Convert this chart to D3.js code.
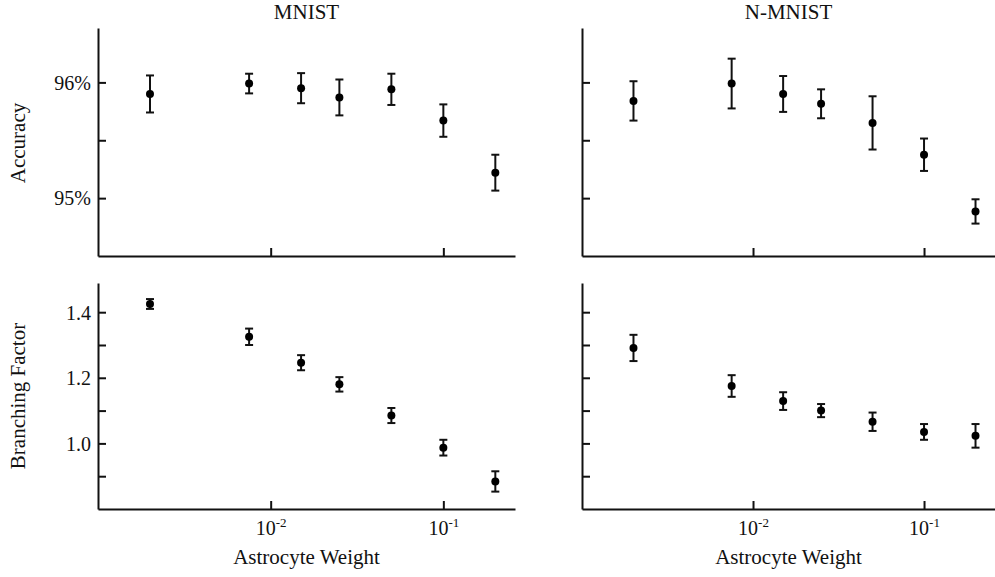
<!DOCTYPE html>
<meta charset="utf-8">
<title>Astrocyte weight</title>
<style>
body { margin: 0; background: #fff; }
svg text { font-family: 'Liberation Serif', 'Times New Roman', serif; fill: #111; }
.axis path, .axis line { stroke: #111; stroke-width: 2; }
.axis text { font-size: 20px; }
.err { stroke: #111; stroke-width: 2; }
</style>
<body>
<svg width="995" height="577"></svg>
<script src="https://d3js.org/d3.v7.min.js"></script>
<script>

// astrocyte weights (x)
var weights = [0.002, 0.0075, 0.015, 0.025, 0.05, 0.1, 0.2];

// accuracy (%) mean and error
var accMnist    = [95.90, 95.99, 95.95, 95.87, 95.94, 95.67, 95.22];
var accMnistErr = [0.16, 0.085, 0.13, 0.155, 0.135, 0.14, 0.155];
var accNmnist    = [95.84, 95.99, 95.90, 95.815, 95.65, 95.375, 94.885];
var accNmnistErr = [0.17, 0.215, 0.155, 0.125, 0.23, 0.14, 0.105];

// branching factor mean and error
var bfMnist    = [1.425, 1.325, 1.246, 1.180, 1.085, 0.987, 0.884];
var bfMnistErr = [0.015, 0.025, 0.023, 0.022, 0.023, 0.024, 0.031];
var bfNmnist    = [1.291, 1.175, 1.129, 1.100, 1.066, 1.035, 1.023];
var bfNmnistErr = [0.04, 0.033, 0.027, 0.02, 0.028, 0.024, 0.036];

var titles = ["MNIST", "N-MNIST"];
var xTickVals = [0.01, 0.1];
var accTicks = [95, 95.5, 96];
var accLabels = {95: "95%", 96: "96%"};
var bfTicks = [0.9, 1.0, 1.1, 1.2, 1.3, 1.4];
var bfLabels = {1.0: "1.0", 1.2: "1.2", 1.4: "1.4"};

var serif = "'Liberation Serif', 'Times New Roman', serif";
var svg = d3.select("svg").style("font-family", serif);

var cols = [{x0: 98, x1: 515}, {x0: 582, x1: 995}];
var rows = [{y0: 28, y1: 256}, {y0: 283, y1: 509}];

function panel(col, row, mean, err, yDomain, ticks, labels, showY, showX) {
    var c = cols[col], r = rows[row];
    var x = d3.scaleLog().domain([0.001, 0.26]).range([c.x0, c.x1]);
    var y = d3.scaleLinear().domain(yDomain).range([r.y1, r.y0]);

    var xAxis = svg.append("g")
        .attr("class", "axis")
        .attr("transform", "translate(0," + r.y1 + ")")
        .call(d3.axisBottom(x).tickValues(xTickVals).tickSizeInner(-8).tickSizeOuter(0).tickFormat(""));
    if (showX) {
        xAxis.selectAll(".tick").append("text")
            .attr("y", 26)
            .attr("text-anchor", "middle")
            .style("font-family", serif)
            .each(function(d) {
                var t = d3.select(this);
                t.append("tspan").text("10");
                t.append("tspan").attr("dy", -8).style("font-size", "13px")
                    .text("-" + Math.round(-Math.log10(d)));
            });
    }

    var yAxis = svg.append("g")
        .attr("class", "axis")
        .attr("transform", "translate(" + c.x0 + ",0)")
        .call(d3.axisLeft(y).tickValues(ticks).tickSizeInner(-8).tickSizeOuter(0)
            .tickFormat(function(d) { return showY && labels[d] ? labels[d] : ""; }));
    yAxis.selectAll("text").attr("x", -7).attr("dy", "0.34em").style("font-family", serif);

    var g = svg.append("g");
    var pts = weights.map(function(w, i) { return {w: w, m: mean[i], e: err[i]}; });
    var cap = 4;
    g.selectAll(".bar").data(pts).enter().append("line")
        .attr("class", "err")
        .attr("x1", function(d) { return x(d.w); })
        .attr("x2", function(d) { return x(d.w); })
        .attr("y1", function(d) { return y(d.m - d.e); })
        .attr("y2", function(d) { return y(d.m + d.e); });
    g.selectAll(".capt").data(pts).enter().append("line")
        .attr("class", "err")
        .attr("x1", function(d) { return x(d.w) - cap; })
        .attr("x2", function(d) { return x(d.w) + cap; })
        .attr("y1", function(d) { return y(d.m + d.e); })
        .attr("y2", function(d) { return y(d.m + d.e); });
    g.selectAll(".capb").data(pts).enter().append("line")
        .attr("class", "err")
        .attr("x1", function(d) { return x(d.w) - cap; })
        .attr("x2", function(d) { return x(d.w) + cap; })
        .attr("y1", function(d) { return y(d.m - d.e); })
        .attr("y2", function(d) { return y(d.m - d.e); });
    g.selectAll("circle").data(pts).enter().append("circle")
        .attr("cx", function(d) { return x(d.w); })
        .attr("cy", function(d) { return y(d.m); })
        .attr("r", 4)
        .attr("fill", "#000");
}

var accDomain = [94.5, 96.47];
var bfDomain = [0.8, 1.489];

panel(0, 0, accMnist, accMnistErr, accDomain, accTicks, accLabels, true, false);
panel(1, 0, accNmnist, accNmnistErr, accDomain, accTicks, accLabels, false, false);
panel(0, 1, bfMnist, bfMnistErr, bfDomain, bfTicks, bfLabels, true, true);
panel(1, 1, bfNmnist, bfNmnistErr, bfDomain, bfTicks, bfLabels, false, true);

// titles and x labels
titles.forEach(function(t, i) {
    svg.append("text")
        .attr("x", (cols[i].x0 + cols[i].x1) / 2)
        .attr("y", 19)
        .attr("text-anchor", "middle")
        .style("font-family", serif)
        .style("font-size", "21px")
        .text(t);
    svg.append("text")
        .attr("x", (cols[i].x0 + cols[i].x1) / 2)
        .attr("y", 564)
        .attr("text-anchor", "middle")
        .style("font-family", serif)
        .style("font-size", "21px")
        .text("Astrocyte Weight");
});

// y labels
[["Accuracy", 143], ["Branching Factor", 396]].forEach(function(d) {
    svg.append("text")
        .attr("transform", "translate(25," + d[1] + ") rotate(-90)")
        .attr("text-anchor", "middle")
        .style("font-family", serif)
        .style("font-size", "21px")
        .text(d[0]);
});

</script>
</body>
